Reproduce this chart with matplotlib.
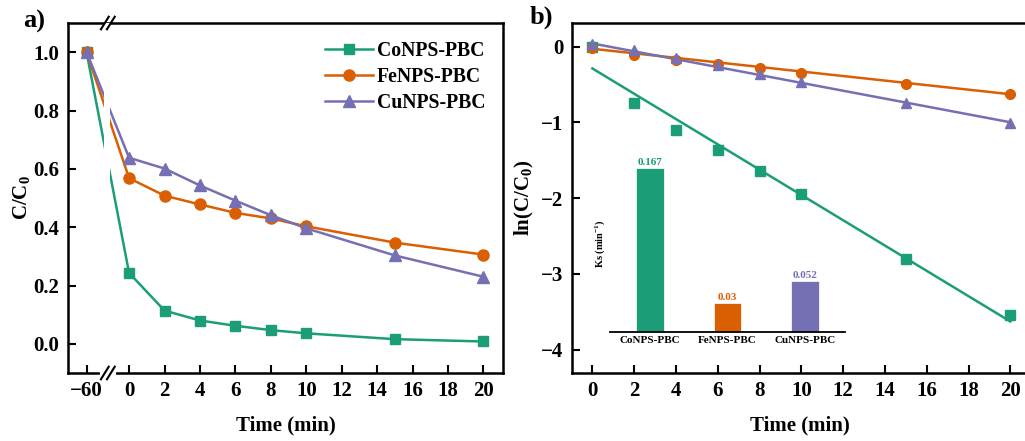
import numpy as np
import matplotlib
matplotlib.use("Agg")
import matplotlib.pyplot as plt

plt.rcParams["font.family"] = ["Liberation Serif", "DejaVu Serif"]
plt.rcParams["font.weight"] = "bold"
plt.rcParams["mathtext.fontset"] = "custom"
plt.rcParams["mathtext.rm"] = "Liberation Serif:bold"
plt.rcParams["mathtext.bf"] = "Liberation Serif:bold"
plt.rcParams["mathtext.it"] = "Liberation Serif:bold"
plt.rcParams["axes.unicode_minus"] = True

# ---- data ----
names = ["CoNPS-PBC", "FeNPS-PBC", "CuNPS-PBC"]
colors = ["#1b9e77", "#d95f02", "#7570b3"]
markers = ["s", "o", "^"]

# panel a: C/C0 vs time (first point at -60 min, dark adsorption)
time_a = [-60, 0, 2, 4, 6, 8, 10, 15, 20]
co_a = [1.0, 0.243, 0.114, 0.080, 0.062, 0.047, 0.036, 0.016, 0.008]
fe_a = [1.0, 0.568, 0.508, 0.478, 0.449, 0.430, 0.403, 0.347, 0.306]
cu_a = [1.0, 0.638, 0.601, 0.543, 0.491, 0.441, 0.396, 0.303, 0.230]

# panel b: ln(C/C0) vs time
time_b = [0, 2, 4, 6, 8, 10, 15, 20]
co_b = [0.0, -0.74, -1.10, -1.36, -1.64, -1.95, -2.81, -3.55]
fe_b = [-0.02, -0.11, -0.175, -0.23, -0.28, -0.345, -0.49, -0.63]
cu_b = [0.03, -0.05, -0.15, -0.25, -0.36, -0.47, -0.74, -1.01]

# linear fits (slope = Ks, intercept)
ks = [0.167, 0.03, 0.052]
intercepts = [-0.29, -0.03, 0.04]
ks_labels = ["0.167", "0.03", "0.052"]

fig = plt.figure(figsize=(10.25, 4.41), dpi=100)

# ---------------- panel a ----------------
ax1 = fig.add_axes([0.0663, 0.1542, 0.4244, 0.7936])


def xmap(t):
    # -60 min is drawn just left of the axis break
    t = np.asarray(t, dtype=float)
    return np.where(t < -30, -2.4, t)


series_a = [co_a, fe_a, cu_a]
msizes = [7, 8, 8.5]
for y, c, m, n, ms in zip(series_a, colors, markers, names, msizes):
    ax1.plot(xmap(time_a), y, color=c, marker=m, markersize=ms, lw=1.8, label=n, zorder=3)

# white gap at the break
ax1.axvspan(-1.42, -1.05, color="white", zorder=4, lw=0)
ax1.set_xlim(-3.45, 21.1)
ax1.set_ylim(-0.1, 1.1)
ax1.set_xticks([-2.4] + list(range(0, 21, 2)))
ax1.set_xticklabels(["\u221260"] + [str(v) for v in range(0, 21, 2)])
ax1.set_yticks(np.arange(0, 1.01, 0.2))
ax1.set_yticklabels(["%.1f" % v for v in np.arange(0, 1.01, 0.2)])

# break marks on the spines
brk = -1.2
for yy in (0, 1):
    if yy == 0:
        ax1.plot([brk - 0.35, brk + 0.35], [0, 0], transform=ax1.get_xaxis_transform(),
                 color="white", lw=3, clip_on=False, zorder=6)
    for dx in (-0.17, 0.17):
        ax1.plot([brk + dx - 0.22, brk + dx + 0.22], [yy - 0.018, yy + 0.018],
                 transform=ax1.get_xaxis_transform(), color="black", lw=1.5,
                 clip_on=False, zorder=7)

ax1.set_xlabel("Time (min)", fontsize=15, fontweight="bold", labelpad=10)
ax1.set_ylabel("C/C$_0$", fontsize=15, fontweight="bold", labelpad=1)
leg = ax1.legend(loc="upper right", bbox_to_anchor=(1.0, 1.0), frameon=False,
                 fontsize=14.2, handlelength=2.4, labelspacing=0.3, handletextpad=0.2)

# ---------------- panel b ----------------
ax2 = fig.add_axes([0.558, 0.1542, 0.444, 0.7936])
series_b = [co_b, fe_b, cu_b]
tfit = np.array([0, 20])
for y, c, m, k, b0 in zip(series_b, colors, markers, ks, intercepts):
    ax2.plot(time_b, y, color=c, marker=m, markersize=7, lw=0, zorder=3)
    ax2.plot(tfit, b0 - k * tfit, color=c, lw=1.8, zorder=2)
ax2.set_xlim(-0.98, 20.8)
ax2.set_ylim(-4.31, 0.31)
ax2.set_xticks(range(0, 21, 2))
ax2.set_yticks([0, -1, -2, -3, -4])
ax2.set_xlabel("Time (min)", fontsize=15, fontweight="bold", labelpad=10)
ax2.set_ylabel("ln(C/C$_0$)", fontsize=15, fontweight="bold", labelpad=4)

for ax in (ax1, ax2):
    for s in ax.spines.values():
        s.set_linewidth(1.8)
    ax.tick_params(direction="in", length=6, width=1.5, labelsize=15, pad=6)
    for lab in ax.get_xticklabels() + ax.get_yticklabels():
        lab.set_fontweight("bold")

# inset bar chart of Ks
ax3 = fig.add_axes([610 / 1025, 1 - 332 / 441, 235 / 1025, 177 / 441])
xb = np.arange(len(names))
ax3.bar(xb, ks, width=0.36, color=colors, edgecolor="white", lw=0.5)
for x, k, c, t in zip(xb, ks, colors, ks_labels):
    ax3.text(x, k + 0.001, t, color=c, ha="center", va="bottom", fontsize=8,
             fontweight="bold")
ax3.set_xlim(-0.52, 2.52)
ax3.set_ylim(0, 0.18)
ax3.patch.set_alpha(0)
for side in ("left", "right", "top"):
    ax3.spines[side].set_visible(False)
ax3.spines["bottom"].set_linewidth(1.3)
ax3.set_xticks(xb)
ax3.set_xticklabels(names, fontsize=8, fontweight="bold")
ax3.set_yticks([])
ax3.tick_params(axis="x", length=0, pad=3)
ax3.set_ylabel("Ks (min$^{-1}$)", fontsize=7.5, fontweight="bold", labelpad=2)

fig.text(34 / 1025, 1 - 21 / 441, "a)", fontsize=19, fontweight="bold", ha="center", va="center")
fig.text(541 / 1025, 1 - 17 / 441, "b)", fontsize=19, fontweight="bold", ha="center", va="center")

fig.savefig("out.png", dpi=100)
